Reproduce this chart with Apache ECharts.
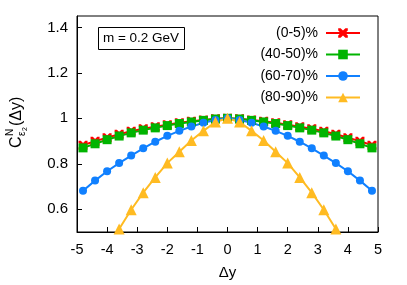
<!DOCTYPE html>
<html><head><meta charset="utf-8">
<script src="https://cdn.jsdelivr.net/npm/echarts@6/dist/echarts.min.js"></script>
<style>html,body{margin:0;padding:0;background:#fff}#c{width:407px;height:285px}</style>
</head><body><div id="c"></div>
<script>
const dy = [-4.8,-4.4,-4.0,-3.6,-3.2,-2.8,-2.4,-2.0,-1.6,-1.2,-0.8,-0.4,0,0.4,0.8,1.2,1.6,2.0,2.4,2.8,3.2,3.6,4.0,4.4,4.8];
const c0_5   = [0.882,0.899,0.915,0.930,0.943,0.954,0.963,0.972,0.980,0.987,0.993,0.998,1.0,0.998,0.993,0.987,0.980,0.972,0.963,0.954,0.943,0.930,0.915,0.899,0.882];
const c40_50 = [0.870,0.888,0.906,0.922,0.936,0.948,0.958,0.968,0.977,0.984,0.991,0.997,1.0,0.997,0.991,0.984,0.977,0.968,0.958,0.948,0.936,0.922,0.906,0.888,0.870];
const c60_70 = [0.681,0.726,0.767,0.803,0.836,0.868,0.897,0.923,0.945,0.964,0.980,0.993,1.0,0.993,0.980,0.964,0.945,0.923,0.897,0.868,0.836,0.803,0.767,0.726,0.681];
const c80_90 = [0.25,0.34,0.425,0.513,0.598,0.673,0.740,0.803,0.853,0.902,0.945,0.984,1.0,0.984,0.945,0.902,0.853,0.803,0.740,0.673,0.598,0.513,0.425,0.34,0.25];
const names = ['(0-5)%','(40-50)%','(60-70)%','(80-90)%'];

const chart = echarts.init(document.getElementById('c'));
const pair = v => dy.map((x,i)=>[x,v[i]]);
const xPath = 'path://M0,0 L2.5,0 L5,2.5 L7.5,0 L10,0 L10,2.5 L7.5,5 L10,7.5 L10,10 L7.5,10 L5,7.5 L2.5,10 L0,10 L0,7.5 L2.5,5 L0,2.5 Z';
const font = 'Liberation Sans';
function mk(name, data, color, symbol, size){
  return {name, type:'line', data:pair(data),
    lineStyle:{color, width:2}, itemStyle:{color}, symbol, symbolSize:size,
    clip:true, animation:false};
}
chart.setOption({
  animation:false,
  grid:{left:77, right:29, top:16, bottom:51, show:true, borderColor:'#000', borderWidth:1, backgroundColor:'transparent'},
  legend:{orient:'vertical', right:41, top:21, align:'right', itemWidth:34, itemHeight:12, itemGap:7.5,
    textStyle:{fontFamily:font, fontSize:14, color:'#000', padding:[0,3,0,0]}, data:names},
  xAxis:{type:'value', min:-5, max:5, interval:1,
     axisLine:{show:true, onZero:false, lineStyle:{color:'#000', width:1}},
     axisTick:{show:true, inside:true, length:5, lineStyle:{color:'#000', width:1}},
     splitLine:{show:false},
     axisLabel:{fontFamily:font, fontSize:14.5, color:'#000', margin:10},
     name:'Δy', nameLocation:'middle', nameGap:33, nameTextStyle:{fontFamily:font, fontSize:15, color:'#000'}},
  yAxis:{type:'value', min:0.5, max:1.45,
     axisLine:{show:true, onZero:false, lineStyle:{color:'#000', width:1}},
     axisTick:{show:true, inside:true, length:5, lineStyle:{color:'#000', width:1}},
     splitLine:{show:false},
     axisLabel:{fontFamily:font, fontSize:15, color:'#000', margin:9, showMinLabel:false, showMaxLabel:false,
       formatter:v=>String(Math.round(v*10)/10)}},
  series:[
    mk(names[0], c0_5, '#ff0000', xPath, 9),
    mk(names[1], c40_50, '#00b400', 'rect', 9),
    mk(names[2], c60_70, '#1080ff', 'circle', 8),
    mk(names[3], c80_90, '#ffbb22', 'triangle', 11)
  ],
  graphic:[
    {type:'rect', left:98, top:27, shape:{width:86, height:22}, style:{fill:'#fff', stroke:'#000', lineWidth:1}, z:10},
    {type:'text', x:141, y:38.5, style:{text:'m = 0.2 GeV', fontFamily:font, fontSize:13.5, fill:'#000', align:'center', verticalAlign:'middle'}, z:11},
    {type:'group', x:17, y:123, rotation:Math.PI/2, children:[
      {type:'text', x:-25, y:0, style:{text:'C', fontFamily:font, fontSize:16, fill:'#000', align:'left', verticalAlign:'middle'}},
      {type:'text', x:-13, y:-7, style:{text:'N', fontFamily:font, fontSize:10, fill:'#000', align:'left', verticalAlign:'middle'}},
      {type:'text', x:-13, y:5, style:{text:'ε', fontFamily:font, fontSize:10, fill:'#000', align:'left', verticalAlign:'middle'}},
      {type:'text', x:-8, y:8, style:{text:'2', fontFamily:font, fontSize:7, fill:'#000', align:'left', verticalAlign:'middle'}},
      {type:'text', x:-3, y:0, style:{text:'(Δy)', fontFamily:font, fontSize:16, fill:'#000', align:'left', verticalAlign:'middle'}}
    ]}
  ]
});
</script></body></html>
